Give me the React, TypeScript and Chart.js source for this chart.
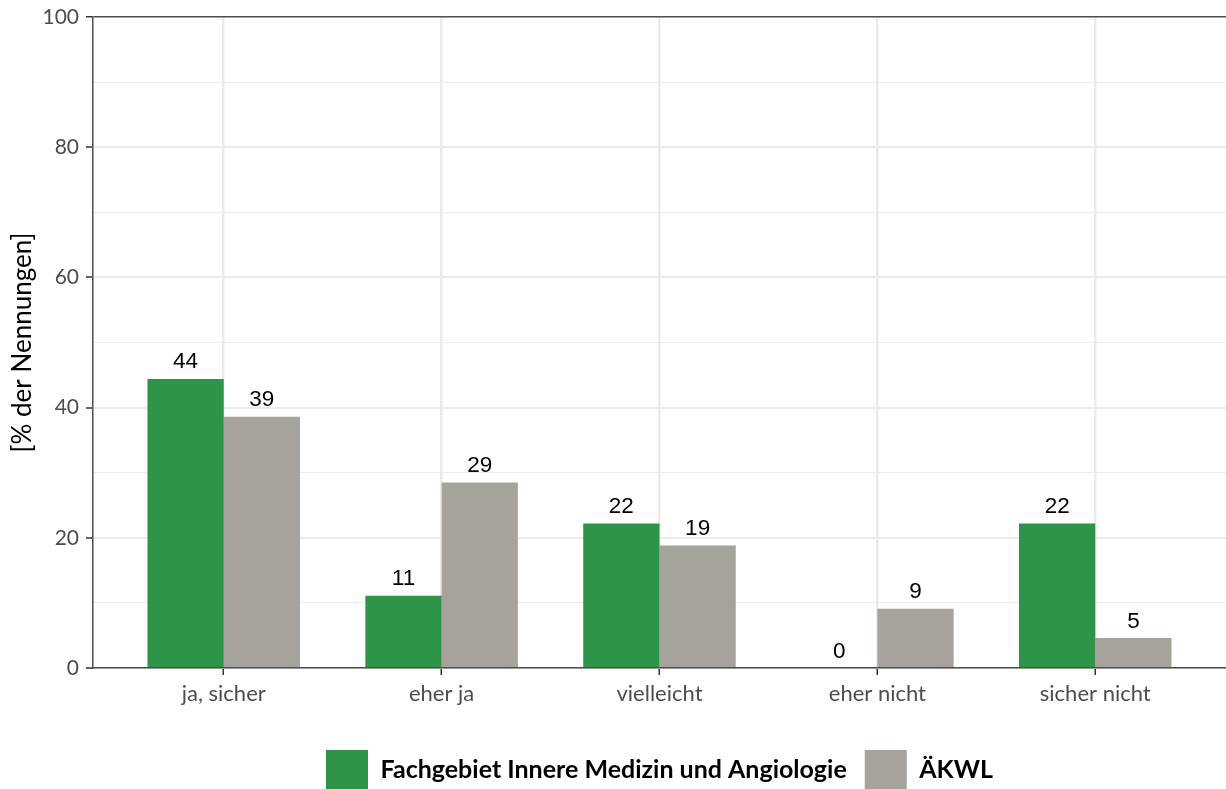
import React, { useEffect, useRef } from "react";
import { Chart, registerables } from "chart.js";

Chart.register(...registerables);

const categories = ["ja, sicher", "eher ja", "vielleicht", "eher nicht", "sicher nicht"];
const seriesNames = ["Fachgebiet Innere Medizin und Angiologie", "ÄKWL"];
const innereValues = [44.4, 11.1, 22.2, 0, 22.2];
const aekwlValues = [38.6, 28.5, 18.8, 9.1, 4.6];
const seriesColors = ["#2E9448", "#A6A39C"];
const yTicks = [0, 20, 40, 60, 80, 100];

const valueLabels = {
  id: "valueLabels",
  afterDatasetsDraw(chart: any) {
    const ctx = chart.ctx;
    ctx.save();
    ctx.font = '22.5px "Liberation Sans", Arial, sans-serif';
    ctx.fillStyle = "#000";
    ctx.textAlign = "center";
    ctx.textBaseline = "alphabetic";
    chart.data.datasets.forEach((ds: any, di: number) => {
      const meta = chart.getDatasetMeta(di);
      meta.data.forEach((el: any, i: number) => {
        const v = ds.data[i].y;
        ctx.fillText(String(Math.round(v)), el.x, el.y - 10.5);
      });
    });
    ctx.restore();
  },
};

export default function App() {
  const ref = useRef<HTMLCanvasElement>(null);
  useEffect(() => {
    if (!ref.current) return;
    const chart = new Chart(ref.current, {
      type: "bar",
      data: {
        datasets: [
          {
            label: seriesNames[0],
            data: innereValues.map((v, i) => ({ x: i + 1, y: v })),
            backgroundColor: seriesColors[0],
            borderWidth: 0,
          },
          {
            label: seriesNames[1],
            data: aekwlValues.map((v, i) => ({ x: i + 1, y: v })),
            backgroundColor: seriesColors[1],
            borderWidth: 0,
          },
        ],
      },
      options: {
        responsive: false,
        animation: false,
        devicePixelRatio: 1,
        layout: { padding: { top: 17, right: 0, left: 10, bottom: -10 } },
        datasets: { bar: { categoryPercentage: 0.7, barPercentage: 1 } },
        plugins: {
          tooltip: { enabled: false },
          legend: {
            position: "bottom",
            fullSize: false,
            labels: {
              boxWidth: 42,
              boxHeight: 39,
              padding: 18,
              color: "#000",
              font: { family: "Lato", size: 25, weight: "bold" },
            },
          },
        },
        scales: {
          x: {
            type: "linear",
            min: 0.4,
            max: 5.6,
            offset: false,
            afterBuildTicks: (scale: any) => {
              scale.ticks = categories.map((_, i) => ({ value: i + 1 }));
            },
            afterFit: (scale: any) => {
              scale.height = 64;
            },
            ticks: {
              autoSkip: false,
              maxRotation: 0,
              padding: 6,
              color: "#4D4D4D",
              font: { family: "Lato", size: 22 },
              callback: (v: any) => categories[Math.round(v) - 1] ?? "",
            },
            grid: {
              offset: false,
              color: "#EBEBEB",
              lineWidth: 2.5,
              tickColor: "#333333",
              tickLength: 7,
              tickWidth: 1.5,
            },
            border: { display: true, color: "#4D4D4D", width: 1.5 },
          },
          y: {
            min: 0,
            max: 100,
            afterFit: (scale: any) => {
              scale.width = 83;
              scale.paddingTop = 0;
              scale.paddingBottom = 0;
            },
            ticks: {
              stepSize: 10,
              padding: 7,
              color: "#4D4D4D",
              font: { family: "Lato", size: 21 },
              callback: (v: any) => (yTicks.includes(v) ? String(v) : ""),
            },
            grid: {
              color: (c: any) => (c.tick && c.tick.value === 100 ? "#4D4D4D" : "#EBEBEB"),
              lineWidth: (c: any) => (c.tick && c.tick.value === 100 ? 1.5 : c.tick && c.tick.value % 20 === 0 ? 2 : 1),
              tickColor: (c: any) => (c.tick && c.tick.value % 20 === 0 ? "#333333" : "rgba(0,0,0,0)"),
              tickLength: 7,
              tickWidth: 1.5,
            },
            border: { display: true, color: "#4D4D4D", width: 1.5 },
            title: {
              display: true,
              text: "[% der Nennungen]",
              color: "#000",
              font: { family: "Lato", size: 26 },
              padding: { top: -3, bottom: 0 },
            },
          },
        },
      },
      plugins: [valueLabels],
    } as any);
    return () => chart.destroy();
  }, []);
  return (
    <div style={{ position: "fixed", left: 0, top: 0, width: 1226, height: 789, background: "#fff" }}>
      <canvas ref={ref} width={1226} height={789} style={{ display: "block" }} />
    </div>
  );
}
